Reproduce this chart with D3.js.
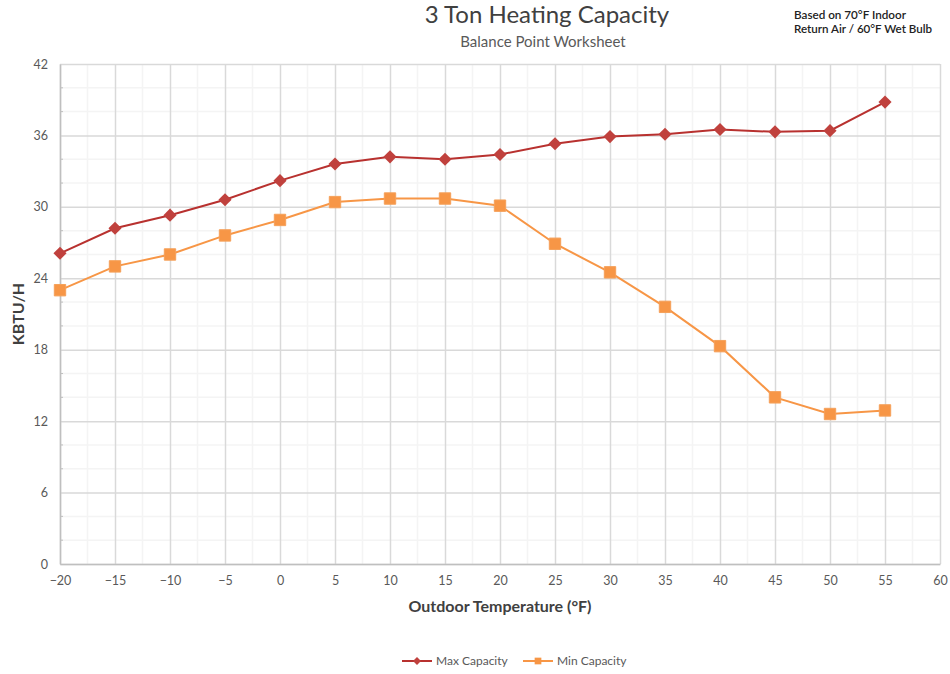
<!DOCTYPE html>
<html>
<head>
<meta charset="utf-8">
<script src="https://cdn.jsdelivr.net/npm/d3@7"></script>
<style>
  body { margin: 0; background: #fff; }
  text { font-family: Lato, "Open Sans", sans-serif; }
</style>
</head>
<body>
<div id="chart"></div>
<script>
var svgWidth = 950;
var svgHeight = 674;

var margin = { top: 64, right: 10, bottom: 110, left: 60 };

var width = 880;
var height = 500;

// data
var temps = [-20, -15, -10, -5, 0, 5, 10, 15, 20, 25, 30, 35, 40, 45, 50, 55];
var maxCapacity = [26.1, 28.2, 29.3, 30.6, 32.2, 33.6, 34.2, 34.0, 34.4, 35.3, 35.9, 36.1, 36.5, 36.3, 36.4, 38.8];
var minCapacity = [23.0, 25.0, 26.0, 27.6, 28.9, 30.4, 30.7, 30.7, 30.1, 26.9, 24.5, 21.6, 18.3, 14.0, 12.6, 12.9];
var xTicks = [-20, -15, -10, -5, 0, 5, 10, 15, 20, 25, 30, 35, 40, 45, 50, 55, 60];
var yTicks = [0, 6, 12, 18, 24, 30, 36, 42];

var redLine = "#B8312F";
var redMark = "#C0413D";
var orange = "#F79646";

var svg = d3.select("#chart")
  .append("svg")
  .attr("width", svgWidth)
  .attr("height", svgHeight);

var chartGroup = svg.append("g")
  .attr("transform", `translate(${margin.left}, ${margin.top})`);

var x = d3.scaleLinear().domain([-20, 60]).range([0, width]);
var y = d3.scaleLinear().domain([0, 42]).range([height, 0]);

// minor gridlines
chartGroup.append("g")
  .selectAll("line")
  .data(d3.range(-17.5, 60, 5))
  .enter()
  .append("line")
  .attr("x1", d => x(d)).attr("x2", d => x(d))
  .attr("y1", 0).attr("y2", height)
  .attr("stroke", "#F4F4F4")
  .attr("stroke-width", 1.5);

chartGroup.append("g")
  .selectAll("line")
  .data(d3.range(0, 42, 2).filter(d => d % 6 !== 0))
  .enter()
  .append("line")
  .attr("x1", 0).attr("x2", width)
  .attr("y1", d => y(d)).attr("y2", d => y(d))
  .attr("stroke", "#F4F4F4")
  .attr("stroke-width", 1.5);

// major gridlines
chartGroup.append("g")
  .attr("transform", `translate(0, ${height})`)
  .call(d3.axisBottom(x).tickValues(xTicks).tickSize(-height).tickFormat(""))
  .call(g => g.select(".domain").remove())
  .call(g => g.selectAll("line").attr("stroke", "#D9D9D9").attr("stroke-width", 1.5));

chartGroup.append("g")
  .call(d3.axisLeft(y).tickValues(yTicks).tickSize(-width).tickFormat(""))
  .call(g => g.select(".domain").remove())
  .call(g => g.selectAll("line").attr("stroke", "#D9D9D9").attr("stroke-width", 1.5));

// minor tick marks on left axis
chartGroup.append("g")
  .selectAll("line")
  .data(d3.range(0, 42, 2).filter(d => d % 6 !== 0))
  .enter()
  .append("line")
  .attr("x1", 0).attr("x2", 3)
  .attr("y1", d => y(d)).attr("y2", d => y(d))
  .attr("stroke", "#BFBFBF");

// axes
var bottomAxis = d3.axisBottom(x).tickValues(xTicks).tickSize(0).tickPadding(12);
var leftAxis = d3.axisLeft(y).tickValues(yTicks).tickSize(0).tickPadding(12);

chartGroup.append("g")
  .attr("transform", `translate(0, ${height})`)
  .call(bottomAxis)
  .call(g => g.select(".domain").attr("stroke", "#BFBFBF").attr("stroke-width", 1.5))
  .call(g => g.selectAll("text").attr("fill", "#595959").style("font-size", "12.5px").style("font-family", "Lato, sans-serif"));

chartGroup.append("g")
  .call(leftAxis)
  .call(g => g.select(".domain").attr("stroke", "#BFBFBF").attr("stroke-width", 1.5))
  .call(g => g.selectAll("text").attr("fill", "#595959").style("font-size", "12.5px").style("font-family", "Lato, sans-serif"));

// lines
var maxData = temps.map((t, i) => ({ x: t, y: maxCapacity[i] }));
var minData = temps.map((t, i) => ({ x: t, y: minCapacity[i] }));

var line = d3.line().x(d => x(d.x)).y(d => y(d.y));

chartGroup.append("path")
  .datum(minData)
  .attr("d", line)
  .attr("fill", "none")
  .attr("stroke", orange)
  .attr("stroke-width", 2);

chartGroup.append("path")
  .datum(maxData)
  .attr("d", line)
  .attr("fill", "none")
  .attr("stroke", redLine)
  .attr("stroke-width", 2);

var diamond = d3.symbol().type(d3.symbolDiamond2).size(110);
var square = d3.symbol().type(d3.symbolSquare).size(130);

chartGroup.selectAll(".minPt")
  .data(minData)
  .enter()
  .append("path")
  .attr("class", "minPt")
  .attr("d", square)
  .attr("transform", d => `translate(${x(d.x)}, ${y(d.y)})`)
  .attr("fill", orange)
  .attr("stroke", "#F5A15A")
  .attr("stroke-width", 1);

chartGroup.selectAll(".maxPt")
  .data(maxData)
  .enter()
  .append("path")
  .attr("class", "maxPt")
  .attr("d", diamond)
  .attr("transform", d => `translate(${x(d.x)}, ${y(d.y)})`)
  .attr("fill", redMark);

// titles
svg.append("text")
  .attr("x", 547).attr("y", 23)
  .attr("text-anchor", "middle")
  .attr("fill", "#404040")
  .style("font-size", "24px")
  .text("3 Ton Heating Capacity");

svg.append("text")
  .attr("x", 543).attr("y", 47)
  .attr("text-anchor", "middle")
  .attr("fill", "#595959")
  .style("font-size", "15px")
  .text("Balance Point Worksheet");

svg.append("text")
  .attr("x", 794).attr("y", 19)
  .attr("fill", "#222")
  .attr("textLength", 112)
  .attr("lengthAdjust", "spacingAndGlyphs")
  .style("font-size", "10.5px")
  .style("font-weight", "600")
  .text("Based on 70°F Indoor");

svg.append("text")
  .attr("x", 794).attr("y", 33)
  .attr("fill", "#222")
  .attr("textLength", 138)
  .attr("lengthAdjust", "spacingAndGlyphs")
  .style("font-size", "10.5px")
  .style("font-weight", "600")
  .text("Return Air / 60°F Wet Bulb");

// axis labels
svg.append("text")
  .attr("transform", "rotate(-90)")
  .attr("x", -314).attr("y", 24)
  .attr("text-anchor", "middle")
  .attr("fill", "#404040")
  .style("font-size", "16px")
  .style("font-weight", "bold")
  .text("KBTU/H");

svg.append("text")
  .attr("x", 500).attr("y", 612)
  .attr("text-anchor", "middle")
  .attr("fill", "#404040")
  .style("font-size", "16px")
  .style("font-weight", "bold")
  .text("Outdoor Temperature (°F)");

// legend
var legend = svg.append("g").attr("transform", "translate(402, 661)");

legend.append("line")
  .attr("x1", 0).attr("x2", 30).attr("y1", 0).attr("y2", 0)
  .attr("stroke", redLine).attr("stroke-width", 2);
legend.append("path")
  .attr("d", d3.symbol().type(d3.symbolDiamond2).size(40))
  .attr("transform", "translate(15, 0)")
  .attr("fill", redMark);
legend.append("text")
  .attr("x", 34).attr("y", 4)
  .attr("fill", "#595959")
  .style("font-size", "12px")
  .text("Max Capacity");

legend.append("line")
  .attr("x1", 121).attr("x2", 151).attr("y1", 0).attr("y2", 0)
  .attr("stroke", orange).attr("stroke-width", 2);
legend.append("path")
  .attr("d", d3.symbol().type(d3.symbolSquare).size(45))
  .attr("transform", "translate(136, 0)")
  .attr("fill", orange);
legend.append("text")
  .attr("x", 155).attr("y", 4)
  .attr("fill", "#595959")
  .style("font-size", "12px")
  .text("Min Capacity");
</script>
</body>
</html>
